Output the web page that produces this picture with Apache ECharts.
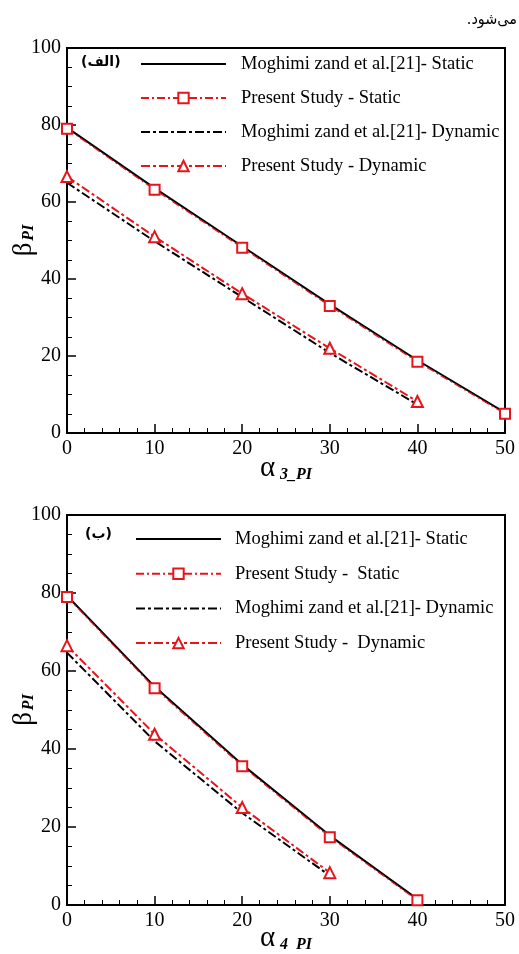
<!DOCTYPE html>
<html>
<head>
<meta charset="utf-8">
<script src="https://cdn.jsdelivr.net/npm/echarts@6/dist/echarts.min.js"></script>
<style>
  html, body { margin: 0; padding: 0; background: #fff; }
  #chart { width: 519px; height: 954px; }
</style>
</head>
<body>
<div id="chart"></div>
<script>
  // x values
  const xTop = [0, 10, 20, 30, 40, 50]
  const xBottom = [0, 10, 20, 30, 40]

  // top chart (alpha_3_PI)
  const topMoghimiStatic = [79.3, 63.6, 48.5, 33.4, 18.9, 5.3]
  const topPresentStatic = [79.0, 63.2, 48.1, 33.0, 18.5, 5.0]
  const topMoghimiDynamic = [65.0, 49.8, 35.3, 20.8, 7.4]
  const topPresentDynamic = [66.6, 51.0, 36.2, 22.0, 8.2]

  // bottom chart (alpha_4_PI)
  const botMoghimiStatic = [79.3, 56.0, 36.0, 17.8, 1.5]
  const botPresentStatic = [79.0, 55.6, 35.6, 17.4, 1.2]
  const botMoghimiDynamic = [64.7, 42.0, 23.6, 7.5]
  const botPresentDynamic = [66.5, 43.8, 25.0, 8.3]

  const yTicks = [0, 20, 40, 60, 80, 100]
  const xTicks = [0, 10, 20, 30, 40, 50]

  const topNames = [
    'Moghimi zand et al.[21]- Static',
    'Present Study - Static',
    'Moghimi zand et al.[21]- Dynamic',
    'Present Study - Dynamic'
  ]
  const botNames = [
    'Moghimi zand et al.[21]- Static',
    'Present Study -  Static',
    'Moghimi zand et al.[21]- Dynamic',
    'Present Study -  Dynamic'
  ]

  const serif = 'Liberation Serif, Times New Roman, serif'
  const red = '#e8141c'

  function pairs (xs, ys) {
    return ys.map((v, i) => [xs[i], v])
  }

  function makeX (idx, sub) {
    return {
      gridIndex: idx,
      type: 'value',
      min: xTicks[0],
      max: xTicks[xTicks.length - 1],
      interval: 10,
      name: '{a|α}{s|' + sub + '}',
      nameLocation: 'middle',
      nameMoveOverlap: false,
      nameGap: idx === 0 ? 21 : 19,
      nameTextStyle: {
        rich: {
          a: { fontFamily: serif, fontSize: 29, color: '#000', verticalAlign: 'bottom' },
          s: { fontFamily: serif, fontSize: 16, fontWeight: 'bold', fontStyle: 'italic', color: '#000', verticalAlign: 'bottom', padding: [8, 0, 0, 5] }
        }
      },
      axisLine: { lineStyle: { color: '#000', width: 2 } },
      axisTick: { inside: true, length: 9, lineStyle: { color: '#000', width: 1.5 } },
      minorTick: { show: true, splitNumber: 5, length: 5, lineStyle: { color: '#000', width: 1 } },
      axisLabel: { fontFamily: serif, fontSize: 20, color: '#000', margin: 6 },
      splitLine: { show: false }
    }
  }

  function makeY (idx) {
    return {
      gridIndex: idx,
      type: 'value',
      min: yTicks[0],
      max: yTicks[yTicks.length - 1],
      interval: 20,
      name: '{b|β}{s|PI}',
      nameLocation: 'middle',
      nameRotate: 90,
      nameMoveOverlap: false,
      nameGap: 30,
      nameTextStyle: {
        rich: {
          b: { fontFamily: serif, fontSize: 27, color: '#000', verticalAlign: 'bottom' },
          s: { fontFamily: serif, fontSize: 16, fontWeight: 'bold', fontStyle: 'italic', color: '#000', verticalAlign: 'bottom', padding: [8, 0, 0, 2] }
        }
      },
      axisLine: { lineStyle: { color: '#000', width: 2 } },
      axisTick: { inside: true, length: 9, lineStyle: { color: '#000', width: 1.5 } },
      minorTick: { show: true, splitNumber: 4, length: 5, lineStyle: { color: '#000', width: 1 } },
      axisLabel: { fontFamily: serif, fontSize: 20, color: '#000', margin: 6 },
      splitLine: { show: false }
    }
  }

  function makeSeries (idx, names, xs, staticM, staticP, dynM, dynP) {
    return [
      {
        name: names[1],
        type: 'line',
        xAxisIndex: idx,
        yAxisIndex: idx,
        data: pairs(xs, staticP),
        symbol: 'emptyRect',
        symbolSize: 10,
        lineStyle: { color: red, width: 1.2, type: [8, 3, 2, 3] },
        itemStyle: { color: red, borderWidth: 1.2 },
        z: 3
      },
      {
        name: names[0],
        type: 'line',
        xAxisIndex: idx,
        yAxisIndex: idx,
        data: pairs(xs, staticM),
        symbol: 'none',
        lineStyle: { color: '#000', width: 2, type: 'solid' },
        itemStyle: { color: '#000' },
        z: 2
      },
      {
        name: names[3],
        type: 'line',
        xAxisIndex: idx,
        yAxisIndex: idx,
        data: pairs(xs, dynP),
        symbol: 'emptyTriangle',
        symbolSize: 11,
        lineStyle: { color: red, width: 2, type: [9, 3, 3, 3] },
        itemStyle: { color: red, borderWidth: 1.2 },
        z: 3
      },
      {
        name: names[2],
        type: 'line',
        xAxisIndex: idx,
        yAxisIndex: idx,
        data: pairs(xs, dynM),
        symbol: 'none',
        lineStyle: { color: '#000', width: 2, type: [9, 3, 3, 3] },
        itemStyle: { color: '#000' },
        z: 2
      }
    ]
  }

  // black lines have no markers, so hide the dot the legend adds
  function legendItems (names) {
    return names.map((n, i) => {
      if (i % 2 === 0) {
        return { name: n, itemStyle: { opacity: 0, color: 'transparent', borderColor: 'transparent' } }
      }
      return { name: n }
    })
  }

  function makeLegend (names, left, top, gap, textPad) {
    return {
      orient: 'vertical',
      left: left,
      top: top,
      padding: 0,
      itemGap: gap,
      itemWidth: 85,
      itemHeight: 13,
      data: legendItems(names),
      selectedMode: false,
      textStyle: {
        fontFamily: serif,
        fontSize: 18.5,
        color: '#000',
        lineHeight: 20,
        padding: [0, 0, 0, textPad]
      }
    }
  }

  let mychart = echarts.init(document.getElementById('chart'))
  let options = {
    backgroundColor: '#fff',
    animation: false,
    grid: [
      { left: 67, top: 48, width: 438, height: 385, show: true, borderColor: '#000', borderWidth: 2, backgroundColor: 'transparent', containLabel: false, outerBoundsMode: 'none' },
      { left: 67, top: 515, width: 438, height: 390, show: true, borderColor: '#000', borderWidth: 2, backgroundColor: 'transparent', containLabel: false, outerBoundsMode: 'none' }
    ],
    xAxis: [makeX(0, '3_PI'), makeX(1, '4  PI')],
    yAxis: [makeY(0), makeY(1)],
    legend: [
      makeLegend(topNames, 140, 54, 14, 10),
      makeLegend(botNames, 135, 529, 14.7, 9)
    ],
    graphic: [
      {
        type: 'text',
        right: 2,
        top: 12,
        style: { text: '.می‌شود', font: '16px "DejaVu Sans Condensed", "DejaVu Sans", sans-serif', fill: '#000' }
      },
      {
        type: 'text',
        left: 81,
        top: 55,
        style: { text: '(الف)', font: 'bold 14px "DejaVu Sans", sans-serif', fill: '#000' }
      },
      {
        type: 'text',
        left: 85,
        top: 527,
        style: { text: '(ب)', font: 'bold 14px "DejaVu Sans", sans-serif', fill: '#000' }
      }
    ],
    series: makeSeries(0, topNames, xTop, topMoghimiStatic, topPresentStatic, topMoghimiDynamic, topPresentDynamic)
      .concat(makeSeries(1, botNames, xBottom, botMoghimiStatic, botPresentStatic, botMoghimiDynamic, botPresentDynamic))
  }
  mychart.setOption(options)
</script>
</body>
</html>
